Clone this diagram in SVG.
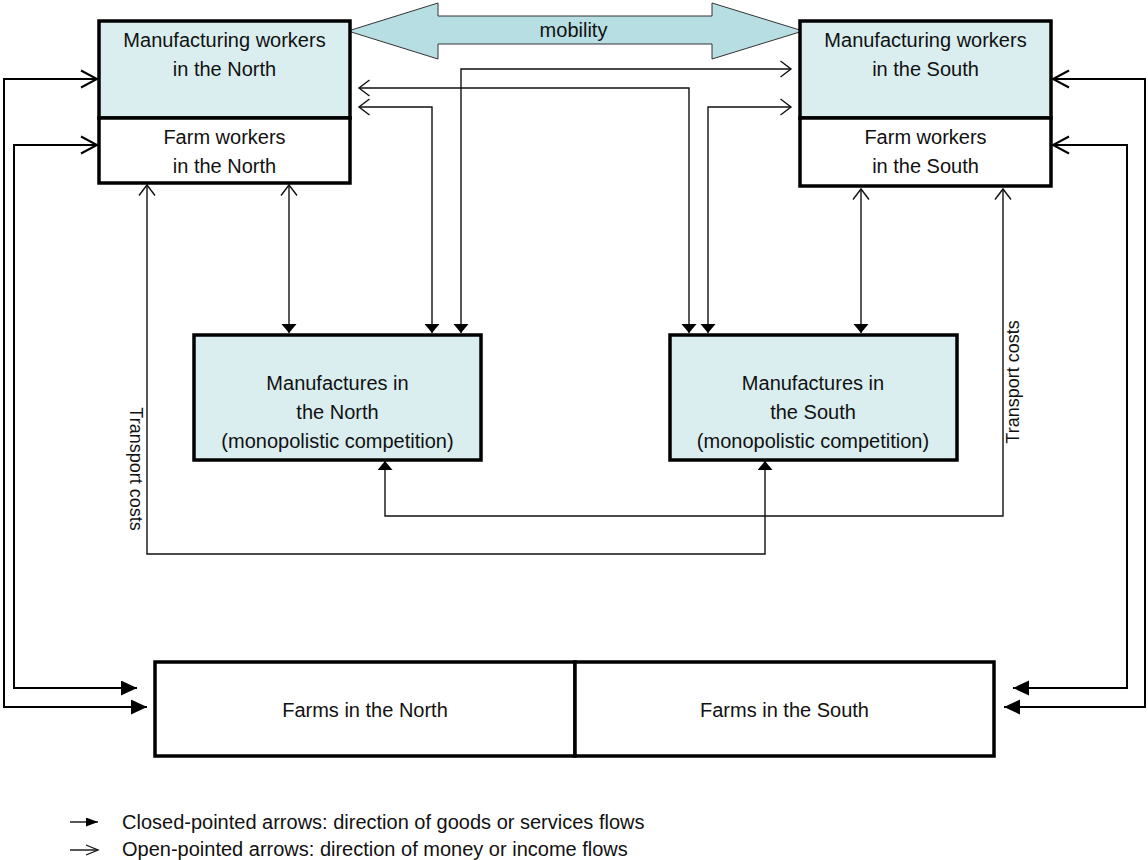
<svg xmlns="http://www.w3.org/2000/svg" width="1148" height="860" viewBox="0 0 1148 860">
<style>
text{font-family:"Liberation Sans",Arial,sans-serif;font-size:20px;fill:#111;text-anchor:middle}
.box{stroke:#000;stroke-width:3.5}
.cyan{fill:#DAEEF0}
.white{fill:#fff}
.thin{fill:none;stroke:#111;stroke-width:1.4}
.thick{fill:none;stroke:#000;stroke-width:2}
.tc{font-size:18px}
.leg{text-anchor:start}
</style>
<defs>
<marker id="closedBig" markerUnits="userSpaceOnUse" markerWidth="17" markerHeight="16" refX="16" refY="7.5" orient="auto-start-reverse"><path d="M0,0 L16,7.5 L0,15 z" fill="#000"/></marker>
<marker id="openBig" markerUnits="userSpaceOnUse" markerWidth="20" markerHeight="22" refX="17" refY="10" orient="auto-start-reverse"><path d="M1,1.5 L17,10 L1,18.5" fill="none" stroke="#000" stroke-width="2"/></marker>
<marker id="closedSmall" markerUnits="userSpaceOnUse" markerWidth="10" markerHeight="16" refX="9" refY="7.5" orient="auto-start-reverse"><path d="M0,0 L9,7.5 L0,15 z" fill="#000"/></marker>
<marker id="openSmall" markerUnits="userSpaceOnUse" markerWidth="14" markerHeight="20" refX="11.5" refY="9" orient="auto-start-reverse"><path d="M1,1 L11.5,9 L1,17" fill="none" stroke="#111" stroke-width="1.4"/></marker>
<marker id="closedLeg" markerUnits="userSpaceOnUse" markerWidth="13" markerHeight="10" refX="12" refY="4.5" orient="auto"><path d="M0,0 L12,4.5 L0,9 z" fill="#000"/></marker>
<marker id="openLeg" markerUnits="userSpaceOnUse" markerWidth="15" markerHeight="14" refX="13" refY="6" orient="auto"><path d="M1,1 L13,6 L1,11" fill="none" stroke="#111" stroke-width="1.3"/></marker>
</defs>
<rect width="1148" height="860" fill="#fff"/>

<g id="connectors">
<path class="thick" d="M97,79 H4 V707 H147" marker-start="url(#openBig)" marker-end="url(#closedBig)"/>
<path class="thick" d="M97,145 H14 V688 H137" marker-start="url(#openBig)" marker-end="url(#closedBig)"/>
<path class="thick" d="M1053,79 H1145 V707 H1004" marker-start="url(#openBig)" marker-end="url(#closedBig)"/>
<path class="thick" d="M1053,145 H1127 V688 H1013" marker-start="url(#openBig)" marker-end="url(#closedBig)"/>
<path class="thin" d="M289,185 V333" marker-start="url(#openSmall)" marker-end="url(#closedSmall)"/>
<path class="thin" d="M861,189 V333" marker-start="url(#openSmall)" marker-end="url(#closedSmall)"/>
<path class="thin" d="M791,69 H461 V333" marker-start="url(#openSmall)" marker-end="url(#closedSmall)"/>
<path class="thin" d="M359,107 H432 V333" marker-start="url(#openSmall)" marker-end="url(#closedSmall)"/>
<path class="thin" d="M359,88 H689 V333" marker-start="url(#openSmall)" marker-end="url(#closedSmall)"/>
<path class="thin" d="M791,107 H708 V333" marker-start="url(#openSmall)" marker-end="url(#closedSmall)"/>
<path class="thin" d="M147,185 V554 H765 V461" marker-start="url(#openSmall)" marker-end="url(#closedSmall)"/>
<path class="thin" d="M1003,189 V516 H385 V461" marker-start="url(#openSmall)" marker-end="url(#closedSmall)"/>
<text class="tc" transform="translate(130,469) rotate(90)">Transport costs</text>
<text class="tc" transform="translate(1019,382) rotate(-90)">Transport costs</text>
</g>

<g id="mobility">
<polygon points="348,31 438,3 438,16 712,16 712,3 803,31 712,59 712,44 438,44 438,59" fill="#B7DEE3" stroke="#333" stroke-width="1"/>
<text x="573.5" y="37">mobility</text>
</g>

<g id="mw-north">
<rect class="box cyan" x="99" y="21" width="251" height="97"/>
<text x="224.5" y="47">Manufacturing workers</text>
<text x="224.5" y="76">in the North</text>
</g>
<g id="fw-north">
<rect class="box white" x="99" y="118" width="251" height="65"/>
<text x="224.5" y="144">Farm workers</text>
<text x="224.5" y="173">in the North</text>
</g>
<g id="mw-south">
<rect class="box cyan" x="800" y="21" width="251" height="97"/>
<text x="925.5" y="47">Manufacturing workers</text>
<text x="925.5" y="76">in the South</text>
</g>
<g id="fw-south">
<rect class="box white" x="800" y="118" width="251" height="68"/>
<text x="925.5" y="144">Farm workers</text>
<text x="925.5" y="173">in the South</text>
</g>

<g id="man-north">
<rect class="box cyan" x="194" y="335" width="287" height="125"/>
<text x="337.5" y="390">Manufactures in</text>
<text x="337.5" y="419">the North</text>
<text x="337.5" y="448">(monopolistic competition)</text>
</g>
<g id="man-south">
<rect class="box cyan" x="670" y="335" width="287" height="125"/>
<text x="813" y="390">Manufactures in</text>
<text x="813" y="419">the South</text>
<text x="813" y="448">(monopolistic competition)</text>
</g>

<g id="farms-north">
<rect class="box white" x="155" y="662" width="420" height="94"/>
<text x="365" y="717">Farms in the North</text>
</g>
<g id="farms-south">
<rect class="box white" x="575" y="662" width="419" height="94"/>
<text x="784.5" y="717">Farms in the South</text>
</g>

<g id="legend">
<path class="thin" d="M70,822 H98" marker-end="url(#closedLeg)"/>
<text class="leg" x="122" y="829">Closed-pointed arrows: direction of goods or services flows</text>
<path class="thin" d="M70,850 H98" marker-end="url(#openLeg)"/>
<text class="leg" x="122" y="856">Open-pointed arrows: direction of money or income flows</text>
</g>
</svg>
